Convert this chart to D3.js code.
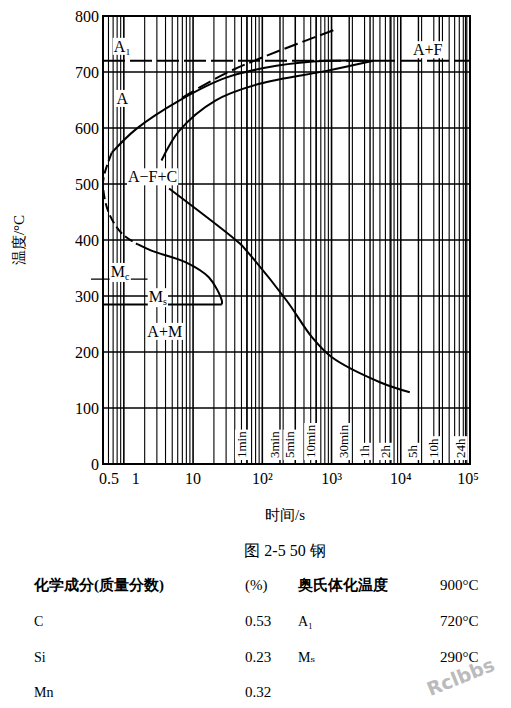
<!DOCTYPE html>
<html><head><meta charset="utf-8">
<script src="https://cdn.jsdelivr.net/npm/d3@7"></script>
<style>body{margin:0;background:#fff}text{font-family:"Liberation Serif","DejaVu Serif",serif;fill:#000}</style>
</head><body><svg id="c" width="511" height="708"></svg>
<script>
// curves: [time s, temperature C]
const outerSolid = [[0.67,556],[1.5,598],[6.3,649],[30,690],[160,711],[850,720],[4000,720]];
const noseDashed = [[0.67,556],[0.53,520],[0.5,497],[0.6,450],[0.93,412],[1.6,392]];
const outerLower = [[1.6,392],[2.5,381],[7.9,360],[17,333],[26,292],[26,285]];
const upperDashed = [[6.9,654],[30,698],[115,729],[1200,777]];
const innerSolid = [[3.5,542],[6.3,595],[21,649],[91,679],[850,702],[4000,720]];
const lowerSolid = [[4.5,492],[47,394],[59,381],[224,292],[525,226],[1000,191],[5000,146],[13500,128]];
const timeMarks = [[60,"1min"],[180,"3min"],[300,"5min"],[600,"10min"],[1800,"30min"],[3600,"1h"],[7200,"2h"],[18000,"5h"],[36000,"10h"],[86400,"24h"]];
const yTicks = [0,100,200,300,400,500,600,700,800];
const xTicks = [[0.5,"0.5"],[1,"1"],[10,"10"],[100,"10²"],[1000,"10³"],[10000,"10⁴"],[100000,"10⁵"]];
const comp = [["C","0.53","A₁","720°C"],["Si","0.23","Mₛ","290°C"],["Mn","0.32","",""]];

const svg = d3.select('#c');
const x = d3.scaleLog().domain([0.5,1e5]).range([103,470]);
const y = d3.scaleLinear().domain([0,800]).range([464,16]);
const g = svg.append('g');

// grid
let minors = [];
for (let e = -1; e < 5; e++) for (let m = 1; m < 10; m++) { const v = m*Math.pow(10,e); if (v>=0.5 && v<=1e5) minors.push(v); }
g.selectAll('.vg').data(minors).enter().append('line')
  .attr('x1',d=>x(d)).attr('x2',d=>x(d)).attr('y1',y(0)).attr('y2',y(800))
  .attr('stroke','#000').attr('stroke-width',d=>Math.abs(Math.log10(d)%1)<1e-9?1.6:1.1);
g.selectAll('.tm').data(timeMarks).enter().append('line')
  .attr('x1',d=>x(d[0])).attr('x2',d=>x(d[0])).attr('y1',y(0)).attr('y2',y(800))
  .attr('stroke','#000').attr('stroke-width',1.4);
g.selectAll('.hg').data(yTicks).enter().append('line')
  .attr('x1',x(0.5)).attr('x2',x(1e5)).attr('y1',d=>y(d)).attr('y2',d=>y(d))
  .attr('stroke','#000').attr('stroke-width',1.6);
g.append('rect').attr('x',x(0.5)).attr('y',y(800)).attr('width',x(1e5)-x(0.5)).attr('height',y(0)-y(800))
  .attr('fill','none').attr('stroke','#000').attr('stroke-width',2);

// A1 dashed line, Mc, Ms
g.append('line').attr('x1',x(0.5)).attr('x2',x(1e5)).attr('y1',y(720)).attr('y2',y(720))
  .attr('stroke','#000').attr('stroke-width',2).attr('stroke-dasharray','22,5');
g.append('line').attr('x1',x(0.5)-12).attr('x2',x(2.2)).attr('y1',y(330)).attr('y2',y(330)).attr('stroke','#000').attr('stroke-width',1.3);
g.append('line').attr('x1',x(0.5)).attr('x2',x(26)).attr('y1',y(285)).attr('y2',y(285)).attr('stroke','#000').attr('stroke-width',2);

// time labels
const tl = svg.selectAll('.tl').data(timeMarks).enter().append('g')
  .attr('transform',d=>`translate(${x(d[0])-2},${y(0)-6}) rotate(-90)`);
tl.append('rect').attr('x',-2).attr('y',-10).attr('height',14).attr('width',d=>d[1].length*6.6+4).attr('fill','#fff');
tl.append('text').attr('font-size',13).attr('x',0).attr('y',1).text(d=>d[1]);

// curves
const line = d3.line().x(d=>x(d[0])).y(d=>y(d[1])).curve(d3.curveCatmullRom);
const draw = (data,dash) => svg.append('path').attr('d',line(data)).attr('fill','none')
  .attr('stroke','#000').attr('stroke-width',2).attr('stroke-dasharray',dash||null);
draw(outerSolid); draw(noseDashed,'9,4'); draw(outerLower); draw(upperDashed,'14,5'); draw(innerSolid); draw(lowerSolid);

// region labels with white background
const labels = [["A₁",0.95,736],["A",0.95,643],["A+F",24500,730],["A−F+C",2.6,503],["M",0.88,334],["M",3.1,289],["A+M",3.9,227]];
const subs = {4:"c",5:"s"};
labels.forEach((l,i)=>{
  const t = svg.append('text').attr('x',x(l[1])).attr('y',y(l[2])).attr('font-size',16).attr('text-anchor','middle').text(l[0]);
  if (subs[i]) t.append('tspan').attr('font-size',10).attr('dy',3).text(subs[i]);
  const b = t.node().getBBox();
  svg.insert('rect',()=>t.node()).attr('x',b.x-1).attr('y',b.y).attr('width',b.width+2).attr('height',b.height).attr('fill','#fff');
});

// axes
svg.append('g').attr('transform',`translate(${x(0.5)},0)`)
  .call(d3.axisLeft(y).tickValues(yTicks).tickSize(0).tickPadding(4))
  .call(a=>a.select('.domain').remove())
  .selectAll('text').attr('font-size',16).style('font-family','Liberation Serif');
svg.selectAll('.xt').data(xTicks).enter().append('text')
  .attr('x',d=>x(d[0])+(d[0]===0.5?6:d[0]===1?12:d[0]===1e5?-2:0)).attr('y',y(0)+20)
  .attr('text-anchor','middle').attr('font-size',16).text(d=>d[1]);

svg.append('text').attr('transform','translate(24,240) rotate(-90)').attr('text-anchor','middle')
  .attr('font-size',15).text('温度/°C');
svg.append('text').attr('x',285).attr('y',520).attr('text-anchor','middle').attr('font-size',15).text('时间/s');
svg.append('text').attr('x',285).attr('y',556).attr('text-anchor','middle').attr('font-size',16).text('图 2-5   50 钢');

// composition table
svg.append('text').attr('x',34).attr('y',590).attr('font-size',15).attr('font-weight','bold').text('化学成分(质量分数)');
svg.append('text').attr('x',245).attr('y',590).attr('font-size',15).text('(%)');
svg.append('text').attr('x',298).attr('y',590).attr('font-size',15).attr('font-weight','bold').text('奥氏体化温度');
svg.append('text').attr('x',440).attr('y',590).attr('font-size',15).text('900°C');
comp.forEach((r,i)=>{
  const yy = 626 + i*35.5;
  svg.append('text').attr('x',34).attr('y',yy).attr('font-size',14).text(r[0]);
  svg.append('text').attr('x',245).attr('y',yy).attr('font-size',15).text(r[1]);
  svg.append('text').attr('x',298).attr('y',yy).attr('font-size',14).text(r[2]);
  svg.append('text').attr('x',440).attr('y',yy).attr('font-size',15).text(r[3]);
});
svg.append('text').attr('transform','translate(463,683) rotate(-22)').attr('text-anchor','middle')
  .attr('font-size',19).attr('font-weight','bold').style('fill','#bbb').style('font-family','DejaVu Sans').text('Rclbbs');
</script></body></html>
